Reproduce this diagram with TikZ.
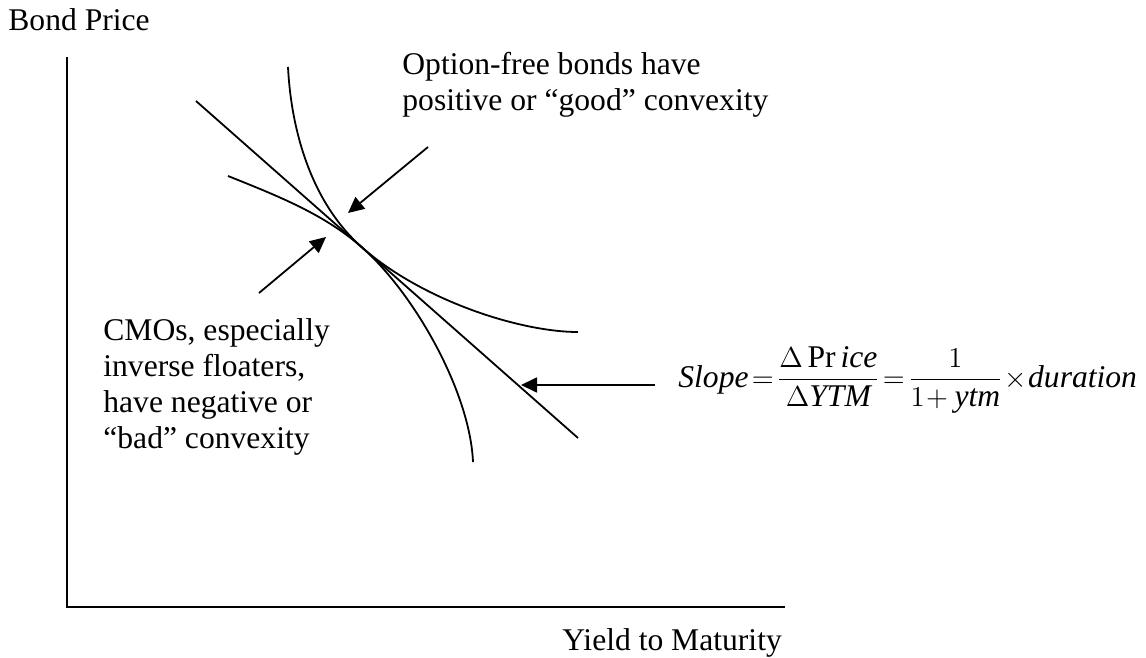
\documentclass[tikz,border=0pt]{standalone}
\usepackage{amsmath}
\usepackage{fontspec}
\setmainfont{Liberation Serif}
\usetikzlibrary{arrows.meta}

\tikzstyle{every node} = [
		font = \fontsize{15.8}{18}\selectfont,
		inner sep = 0pt
	]
\tikzstyle{note} = [
		align = left,
		anchor = base west
	]
\tikzstyle{axis} = [line width = 1.2pt]
\tikzstyle{curve} = [line width = .9pt]
\tikzstyle{pointer} = [
		line width = .9pt,
		-{Triangle[length = 8pt, width = 7.5pt]}
	]

\begin{document}
\begin{tikzpicture}[x = .5pt, y = -.5pt]

	\useasboundingbox (0,0) rectangle (1146,658);

		%------------------------------Axes------------------------------
		\coordinate (ytop) at (67,57);
		\coordinate (origin) at (67,607);
		\coordinate (xend) at (785,607);
		\draw [axis] (ytop) -- (origin) -- (xend);
		\node [note] (price) at (8,31) {Bond Price};
		\node [note] (yield) at (562,650) {Yield to Maturity};

		%------------------------------Curves------------------------------
		\coordinate (touch) at (362,247.4);
		\coordinate (tanstart) at (196,101);
		\coordinate (tanend) at (578,438);
		\draw [curve] (tanstart) -- (tanend);
		% positive convexity
		\coordinate (goodstart) at (288,67);
		\coordinate (goodend) at (578,332);
		\draw [curve] (goodstart) .. controls (291,127) and (309.5,201) .. (touch)
			.. controls (422,300.4) and (520,332) .. (goodend);
		% negative convexity
		\coordinate (badstart) at (228,176);
		\coordinate (badend) at (473,462);
		\draw [curve] (badstart) .. controls (278,196) and (324.5,214.3) .. (touch)
			.. controls (414.5,293.7) and (470,392) .. (badend);

		%------------------------------Notes------------------------------
		\node [note] (good) at (402,111) {Option-free bonds have\\positive or ``good'' convexity};
		\node [note] (bad) at (103,448) {CMOs, especially\\inverse floaters,\\have negative or\\``bad'' convexity};
		\node [note] (slope) at (678,387)
			{\thickmuskip=2mu \medmuskip=1mu
			$\mathit{Slope}=\dfrac{\Delta\,\mathrm{Pr}\,\mathit{ice}}{\Delta\mathit{YTM}}=\dfrac{1}{1+\,\mathit{ytm}}\times\mathit{duration}$};

		\coordinate (goodtail) at (428,147);
		\coordinate (goodtip) at (348,213);
		\coordinate (badtail) at (259,293);
		\coordinate (badtip) at (326,237);
		\coordinate (slopetail) at (655,385);
		\coordinate (slopetip) at (521,385);
		\draw [pointer] (goodtail) -- (goodtip);
		\draw [pointer] (badtail) -- (badtip);
		\draw [pointer] (slopetail) -- (slopetip);

\end{tikzpicture}
\end{document}
